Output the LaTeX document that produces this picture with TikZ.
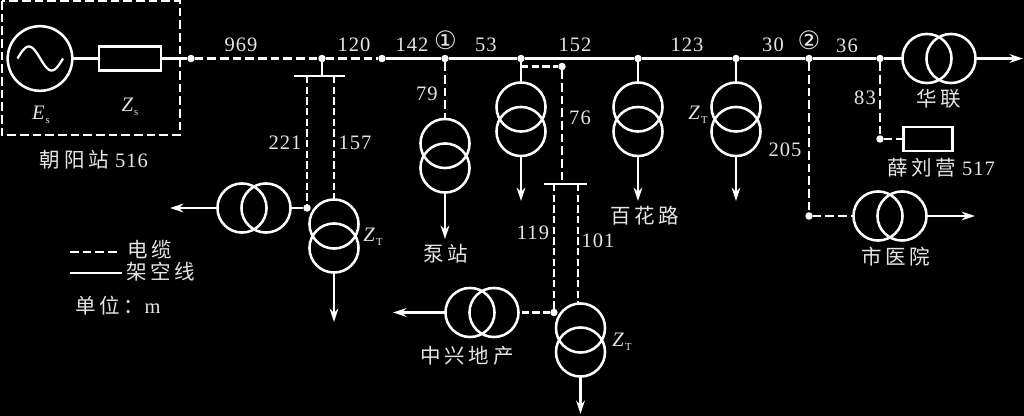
\documentclass[tikz,border=0pt]{standalone}
\usepackage{fontspec}
\usetikzlibrary{arrows.meta}
\setmainfont[LetterSpace=5]{Liberation Serif}
\newfontfamily\cjk[LetterSpace=18]{Noto Sans CJK SC}
\newfontfamily\circled{DejaVu Sans}
\newcommand{\subl}[2]{\textit{#1}\raisebox{-3pt}{\fontsize{8}{8}\selectfont #2}}
\tikzset{
  wire/.style={draw=white,line width=1.9pt},
  cable/.style={draw=white,line width=1.9pt,dash pattern=on 6.5pt off 3pt},
  thincable/.style={draw=white,line width=1.7pt,dash pattern=on 5.5pt off 2.5pt},
  feed/.style={wire,-{Stealth[length=10pt,width=6.5pt]}},
  dotnode/.style={circle,fill=white,inner sep=0pt,outer sep=0pt,minimum size=5.6pt},
  coil/.style={circle,draw=white,line width=1.9pt,inner sep=0pt,outer sep=0pt,minimum size=36.8pt},
  boxnode/.style={rectangle,draw=white,line width=1.9pt,inner sep=0pt,outer sep=0pt},
  lab/.style={text=white!90!black,inner sep=0pt,font=\fontsize{15.4}{16}\selectfont},
}
\begin{document}
\begin{tikzpicture}[x=0.75pt,y=-0.75pt]
\useasboundingbox (0,0) rectangle (1024,416);
\fill[black] (0,0) rectangle (1024,416);

% station box
\draw[cable] (2,1) rectangle (180,135);
\node[circle,draw=white,line width=1.9pt,inner sep=0pt,outer sep=0pt,minimum size=48.5pt] (src) at (40,58.5) {};
\draw[white,line width=1.7pt] plot[domain=0:1,samples=50] ({17.5+45.5*\x},{58.5-12*sin(360*\x)});
\node[boxnode,minimum width=46.5pt,minimum height=18pt] (zs) at (130,58.5) {};

% bus dots
\foreach \n/\x in {a/191,b/322,c/382,d/445,e/521,f/638,g/736,h/809,i/880}
  \node[dotnode] (d\n) at (\x,58.5) {};

% main bus
\draw[wire] (src) -- (zs);
\draw[wire] (zs) -- (da);
\draw[cable] (da) -- (db);
\draw[cable] (db) -- (dc);
\draw[wire] (dc) -- (dd);
\draw[wire] (dd) -- (de);
\draw[wire] (de) -- (df);
\draw[wire] (df) -- (dg);
\draw[wire] (dg) -- (dh);
\draw[wire] (dh) -- (di);

% transformers
\node[coil] (hla) at (927,58.5) {}; \node[coil] (hlb) at (951,58.5) {};
\coordinate (hlend) at (1023,58.5);
\draw[wire] (di) -- (hla);
\draw[feed] (hlb.east) -- (hlend);

% tap b
\coordinate (bb) at (322,76);
\coordinate (bbl) at (294,76);
\coordinate (bbr) at (345,76);
\coordinate (bbd) at (307,76);
\coordinate (bbe) at (334,76);
\draw[wire] (db) -- (bb);
\draw[wire] (bbl) -- (bbr);
\node[dotnode] (dj) at (307,208) {};
\node[coil] (ja) at (334,224) {}; \node[coil] (jb) at (334,248) {};
\coordinate (jend) at (334,322);
\draw[thincable] (bbd) -- (dj);
\draw[thincable] (bbe) -- (ja.north);
\draw[feed] (jb.south) -- (jend);
\node[coil] (ka) at (266,208) {}; \node[coil] (kb) at (242,208) {};
\coordinate (kend) at (170,208);
\draw[wire] (dj) -- (ka.east);
\draw[feed] (kb.west) -- (kend);

% tap d
\node[coil] (la) at (445,143.5) {}; \node[coil] (lb) at (445,168) {};
\coordinate (lend) at (445,239);
\draw[cable] (dd) -- (la.north);
\draw[feed] (lb.south) -- (lend);

% tap e
\node[coil] (ma) at (521,107) {}; \node[coil] (mb) at (521,131.5) {};
\coordinate (mend) at (521,201);
\draw[wire] (de) -- (ma.north);
\draw[feed] (mb.south) -- (mend);
\coordinate (me) at (521,66.5);
\node[dotnode] (dn) at (562,66.5) {};
\draw[thincable] (me) -- (dn);
\coordinate (cb) at (562,184);
\coordinate (cbl) at (544,184);
\coordinate (cbr) at (587,184);
\coordinate (cbd) at (554,184);
\coordinate (cbe) at (578,184);
\draw[cable] (dn) -- (cb);
\draw[wire] (cbl) -- (cbr);
\node[dotnode] (do) at (554,312.5) {};
\node[coil] (oa) at (580.5,328) {}; \node[coil] (ob) at (580.5,352) {};
\coordinate (oend) at (580.5,414);
\draw[thincable] (cbd) -- (do);
\draw[thincable] (cbe) -- (578,304);
\draw[feed] (ob.south) -- (oend);
\node[coil] (pa) at (494,312.5) {}; \node[coil] (pb) at (470,312.5) {};
\coordinate (pend) at (393,312.5);
\draw[thincable] (do) -- (pa.east);
\draw[feed] (pb.west) -- (pend);

% tap f, g
\node[coil] (qa) at (638,107) {}; \node[coil] (qb) at (638,131.5) {};
\coordinate (qend) at (638,201);
\draw[wire] (df) -- (qa.north);
\draw[feed] (qb.south) -- (qend);
\node[coil] (ra) at (736,107) {}; \node[coil] (rb) at (736,131.5) {};
\coordinate (rend) at (736,201);
\draw[wire] (dg) -- (ra.north);
\draw[feed] (rb.south) -- (rend);

% tap h
\node[dotnode] (ds) at (809,216) {};
\node[coil] (sa) at (878,216) {}; \node[coil] (sb) at (902,216) {};
\coordinate (send) at (975,216);
\draw[cable] (dh) -- (ds);
\draw[cable] (ds) -- (sa.west);
\draw[feed] (sb.east) -- (send);

% tap i
\node[dotnode] (dt) at (880,139) {};
\node[boxnode,minimum width=36.5pt,minimum height=18pt] (xue) at (928,139) {};
\draw[cable] (di) -- (dt);
\draw[cable] (dt) -- (xue);

% legend
\coordinate (l1a) at (70,252); \coordinate (l1b) at (120,252);
\coordinate (l2a) at (70,273); \coordinate (l2b) at (122,273);
\draw[cable] (l1a) -- (l1b);
\draw[wire] (l2a) -- (l2b);

% labels
\foreach \n/\x/\y/\t in {n1/241/45/969,n2/354/45/120,n3/412/45/142,n4/486/45/53,n5/575/45/152,n6/687/45/123,n7/773/45/30,n8/847/46/36,n9/427/94/79,n10/580/118/76,n11/285/143/221,n12/355/143/157,n13/533/233/119,n14/598/241/101,n15/865/98/83,n16/785/150/205}
  \node[lab] (\n) at (\x,\y) {\t};
\node[lab,font=\fontsize{19}{20}\selectfont\circled] (c1) at (445.5,40) {①};
\node[lab,font=\fontsize{19}{20}\selectfont\circled] (c2) at (809,40.5) {②};
\node[lab] (es) at (41,115) {\subl{E}{s}};
\node[lab] (zsl) at (130,107) {\subl{Z}{s}};
\node[lab] (zt1) at (373,237) {\subl{Z}{T}};
\node[lab] (zt2) at (698,115) {\subl{Z}{T}};
\node[lab] (zt3) at (622,342) {\subl{Z}{T}};
\node[lab] (t1) at (94,160) {{\cjk 朝阳站} 516};
\node[lab] (t2) at (939,99) {{\cjk 华联}};
\node[lab] (t3) at (941,168) {{\cjk 薛刘营} 517};
\node[lab] (t4) at (896,257) {{\cjk 市医院}};
\node[lab] (t5) at (645,216) {{\cjk 百花路}};
\node[lab] (t6) at (446,254) {{\cjk 泵站}};
\node[lab] (t7) at (467,356) {{\cjk 中兴地产}};
\node[lab] (t8) at (150,250) {{\cjk 电缆}};
\node[lab] (t9) at (161,272) {{\cjk 架空线}};
\node[lab] (t10) at (118,306) {{\cjk 单位：}m};
\end{tikzpicture}
\end{document}
